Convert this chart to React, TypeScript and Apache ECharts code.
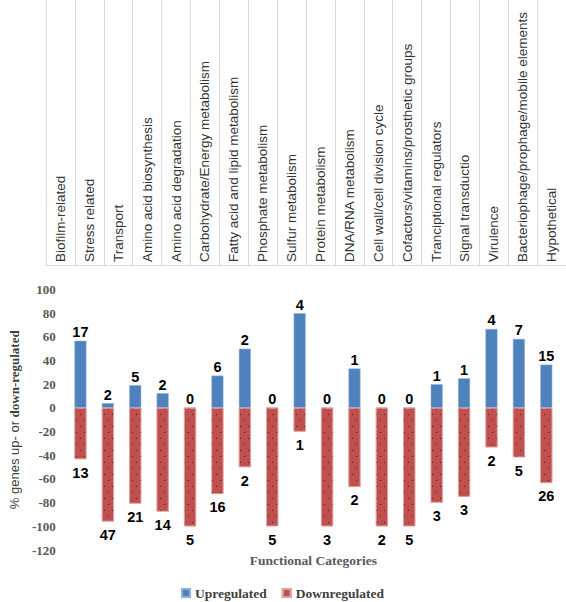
import React, { useEffect, useRef } from 'react';
import * as echarts from 'echarts';

const categories = [
  'Biofilm-related',
  'Stress related',
  'Transport',
  'Amino acid biosynthesis',
  'Amino acid degradation',
  'Carbohydrate/Energy metabolism',
  'Fatty acid and lipid metabolism',
  'Phosphate metabolism',
  'Sulfur metabolism',
  'Protein metabolism',
  'DNA/RNA metabolism',
  'Cell wall/cell division cycle',
  'Cofactors/vitamins/prosthetic groups',
  'Tranciptional regulators',
  'Signal transductio',
  'Virulence',
  'Bacteriophage/prophage/mobile elements',
  'Hypothetical',
];

const upPct = [56.7, 4.1, 19.2, 12.5, 0, 27.3, 50, 0, 80, 0, 33.3, 0, 0, 20, 25, 66.7, 58.3, 36.6];
const downPct = [-43.3, -95.9, -80.8, -87.5, -100, -72.7, -50, -100, -20, -100, -66.7, -100, -100, -80, -75, -33.3, -41.7, -63.4];
const upCounts = [17, 2, 5, 2, 0, 6, 2, 0, 4, 0, 1, 0, 0, 1, 1, 4, 7, 15];
const downCounts = [13, 47, 21, 14, 5, 16, 2, 5, 1, 3, 2, 2, 5, 3, 3, 2, 5, 26];

const yMin = -120;
const yMax = 100;
const yStep = 20;

export default function App() {
  const ref = useRef<HTMLDivElement>(null);
  useEffect(() => {
    document.body.style.margin = '0';
    const chart = echarts.init(ref.current!, null, { renderer: 'svg' });
    const countLabel = {
      show: true,
      fontFamily: 'Liberation Sans',
      fontWeight: 'bold',
      fontSize: 14.5,
      color: '#000',
    };
    chart.setOption({
      animation: false,
      backgroundColor: '#ffffff',
      legend: {
        data: ['Upregulated', 'Downregulated'],
        left: 181,
        top: 586,
        padding: 0,
        itemWidth: 8,
        itemHeight: 8,
        itemGap: 15,
        icon: 'rect',
        textStyle: {
          fontFamily: 'Liberation Serif',
          fontWeight: 'bold',
          fontSize: 13.5,
          color: '#404040',
        },
      },
      grid: [
        { left: 52, right: 6, top: 289.5, bottom: 52 },
        { left: 46, right: 0, top: -1, height: 266 },
      ],
      xAxis: [
        {
          type: 'category',
          gridIndex: 0,
          data: categories,
          axisLine: { show: false, onZero: false },
          axisTick: { show: false },
          axisLabel: { show: false },
          name: 'Functional Categories',
          nameLocation: 'middle',
          nameGap: 3,
          nameTextStyle: {
            fontFamily: 'Liberation Serif',
            fontWeight: 'bold',
            fontSize: 13.5,
            color: '#595959',
            verticalAlign: 'top',
          },
        },
        {
          type: 'category',
          gridIndex: 1,
          data: categories,
          axisLine: { lineStyle: { color: '#d9d9d9', width: 1 } },
          axisTick: { show: false },
          splitLine: { show: true, lineStyle: { color: '#d9d9d9', width: 1 } },
          axisLabel: {
            inside: true,
            rotate: 90,
            margin: 3,
            interval: 0,
            fontFamily: 'Liberation Sans',
            fontSize: 13.5,
            color: '#333',
          },
        },
      ],
      yAxis: [
        {
          type: 'value',
          gridIndex: 0,
          min: yMin,
          max: yMax,
          interval: yStep,
          splitLine: { show: false },
          axisLine: { show: false },
          axisTick: { show: false },
          axisLabel: {
            fontFamily: 'Liberation Serif',
            fontWeight: 'bold',
            fontSize: 13,
            color: '#595959',
            margin: 11,
          },
          name: '{a|% genes up- or }{b|down-regulated}',
          nameLocation: 'middle',
          nameRotate: 90,
          nameGap: 40,
          nameTextStyle: {
            rich: {
              a: { fontFamily: 'Liberation Sans', fontSize: 13, color: '#404040' },
              b: { fontFamily: 'Liberation Serif', fontSize: 13, fontWeight: 'bold', color: '#404040' },
            },
          },
        },
        { type: 'value', gridIndex: 1, show: false },
      ],
      series: [
        {
          name: 'Upregulated',
          type: 'bar',
          xAxisIndex: 0,
          yAxisIndex: 0,
          stack: 'reg',
          barWidth: 12,
          data: upPct,
          itemStyle: { color: '#4F81BD', borderColor: '#8fb0d8', borderWidth: 0.6 },
          label: {
            ...countLabel,
            position: 'top',
            distance: 1,
            formatter: (p: any) => String(upCounts[p.dataIndex]),
          },
        },
        {
          name: 'Downregulated',
          type: 'bar',
          xAxisIndex: 0,
          yAxisIndex: 0,
          stack: 'reg',
          barWidth: 12,
          data: downPct,
          itemStyle: {
            color: '#C0504D',
            borderColor: '#e0a09e',
            borderWidth: 0.6,
            decal: {
              symbol: 'rect',
              symbolSize: 1,
              color: 'rgba(40,10,10,0.75)',
              dashArrayX: [[1, 7], [0, 4, 1, 3]],
              dashArrayY: [1, 5],
              rotation: 0,
            },
          },
          label: {
            ...countLabel,
            position: 'bottom',
            distance: 6,
            formatter: (p: any) => String(downCounts[p.dataIndex]),
          },
        },
      ],
    });
    return () => chart.dispose();
  }, []);
  return <div ref={ref} style={{ width: 566, height: 602 }} />;
}
